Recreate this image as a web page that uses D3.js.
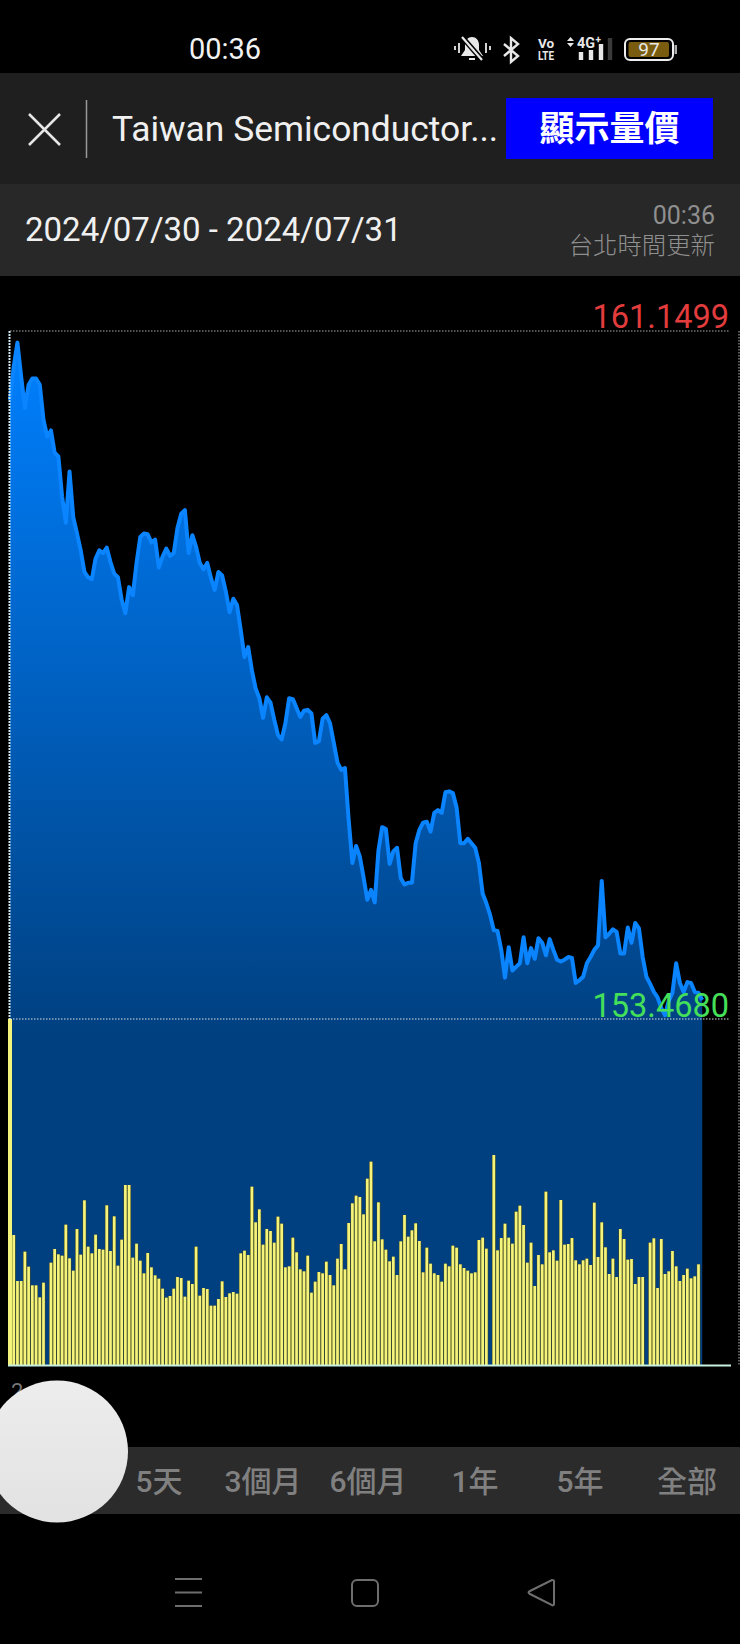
<!DOCTYPE html>
<html>
<head>
<meta charset="utf-8">
<style>
  html, body { margin: 0; padding: 0; background: #000; }
  svg { display: block; }
  text { font-family: Roboto, "Noto Sans CJK TC", sans-serif; }
</style>
<script src="https://cdn.jsdelivr.net/npm/d3@7/dist/d3.min.js"></script>
</head>
<body>
<svg id="screen" width="740" height="1644"></svg>
<script>
// chart values
var priceHigh = 161.1499;
var priceLow = 153.4680;

var prices = [
  160.38,160.75,161.02,160.64,160.29,160.55,160.62,160.62,160.55,160.16,
  159.97,160.04,159.79,159.75,159.30,159.01,159.58,159.07,158.89,158.70,
  158.46,158.40,158.38,158.61,158.70,158.67,158.73,158.57,158.44,158.40,
  158.15,158.00,158.29,158.20,158.56,158.85,158.89,158.88,158.79,158.82,
  158.51,158.63,158.72,158.64,158.67,158.95,159.11,159.15,158.67,158.87,
  158.74,158.56,158.49,158.56,158.39,158.26,158.46,158.42,158.24,158.01,
  158.16,158.09,157.81,157.51,157.62,157.36,157.16,157.05,156.83,157.06,
  157.00,156.81,156.64,156.59,156.77,157.05,157.04,156.94,156.84,156.91,
  156.92,156.88,156.55,156.57,156.82,156.86,156.77,156.55,156.33,156.25,
  156.27,155.69,155.21,155.40,155.28,155.05,154.80,154.91,154.77,155.35,
  155.61,155.59,155.20,155.34,155.38,155.04,154.97,154.99,154.99,155.43,
  155.58,155.66,155.67,155.56,155.77,155.80,155.77,156.00,156.01,155.99,
  155.83,155.43,155.43,155.48,155.43,155.38,155.21,154.87,154.76,154.63,
  154.46,154.45,154.24,153.93,154.27,154.01,154.05,154.09,154.38,154.09,
  154.26,154.14,154.37,154.32,154.18,154.36,154.24,154.13,154.11,154.13,
  154.16,154.15,153.87,153.90,153.94,154.09,154.16,154.24,154.29,155.01,
  154.38,154.42,154.47,154.44,154.20,154.20,154.49,154.32,154.54,154.48,
  154.16,153.94,153.86,153.77,153.71,153.59,153.51,153.67,153.76,154.09,
  153.87,153.77,153.88,153.87,153.77,153.76,153.68
];

// no volume axis in the picture, so these are relative heights
var volumes = [
  1038,390,252,252,340,295,239,239,203,247,
  0,307,348,332,328,421,320,283,408,331,494,
  355,335,391,348,346,479,342,446,298,376,
  540,540,322,364,313,275,336,293,269,259,
  229,202,207,229,264,261,205,253,243,355,
  208,231,228,178,178,198,251,204,215,219,214,
  335,343,330,535,428,467,361,408,402,367,
  445,424,293,296,382,338,287,281,328,217,
  250,279,275,310,270,239,319,363,287,426,
  485,508,504,452,559,610,371,488,377,346,
  311,325,270,371,450,385,404,425,372,278,
  352,304,275,270,250,304,296,358,352,302,
  291,283,275,278,375,382,349,0,
  630,344,381,424,382,364,460,478,420,307,
  367,237,330,302,520,338,344,313,495,361,
  363,381,314,302,314,319,300,487,324,428,
  353,273,319,264,408,378,316,318,243,264,
  264,0,367,380,231,378,273,281,342,296,
  252,270,289,260,266,302
];

var rangeTabs = ['5天', '3個月', '6個月', '1年', '5年', '全部'];
var rangeTabX = [159, 263, 368, 475, 580, 687];

var svg = d3.select('#screen');
var defs = svg.append('defs');

var chartLeft = 10, chartRight = 698.5, chartTop = 331, chartMid = 1019, chartBottom = 1365;

var x = d3.scaleLinear().domain([0, volumes.length - 1]).range([chartLeft, chartRight]);
var y = d3.scaleLinear().domain([priceLow, priceHigh]).range([chartMid, chartTop]);
var yVol = d3.scaleLinear().domain([0, d3.max(volumes)]).range([chartBottom, chartMid]);

// header bars
svg.append('rect').attr('y', 73).attr('width', 740).attr('height', 111).attr('fill', '#1f1f1f');
svg.append('rect').attr('y', 184).attr('width', 740).attr('height', 92).attr('fill', '#282828');

function label(str, px, py, size, color, anchor, weight) {
  return svg.append('text').attr('x', px).attr('y', py)
    .attr('font-size', size).attr('fill', color)
    .attr('text-anchor', anchor || 'start')
    .attr('font-weight', weight || 400)
    .text(str);
}

// status bar
label('00:36', 225, 59, 29, '#f2f2f2', 'middle', 400);
var icons = svg.append('g').attr('stroke', '#e8e8e8').attr('fill', 'none').attr('stroke-width', 2);
// muted bell
icons.append('path').attr('d', 'M461 56h22l-4-6v-5c0-5-3-8-7-8s-7 3-7 8v5zM469 58h6v2h-6z').attr('fill', '#e8e8e8').attr('stroke', 'none');
icons.append('path').attr('d', 'M463 38l20 23').attr('stroke', '#000').attr('stroke-width', 5);
icons.append('path').attr('d', 'M462 37l20 23').attr('stroke-width', 2.2);
icons.append('path').attr('d', 'M455 46v4M459 43v10M486 43v10M490 46v4').attr('stroke-width', 1.8);
// bluetooth
icons.append('path').attr('d', 'M504 56l14-12-7-6v24l7-6-14-12').attr('stroke-width', 2.4);
// volte
svg.append('text').attr('x', 546).attr('y', 48).attr('text-anchor', 'middle').attr('font-size', 13.5).attr('font-weight', 700).attr('fill', '#e8e8e8').text('Vo');
svg.append('text').attr('x', 546).attr('y', 60).attr('text-anchor', 'middle').attr('font-size', 13).attr('font-weight', 700).attr('fill', '#e8e8e8').attr('textLength', 16).attr('lengthAdjust', 'spacingAndGlyphs').text('LTE');
// 4G signal
icons.append('path').attr('d', 'M567 41l3.5-4 3.5 4zM567 43l3.5 4 3.5-4z').attr('fill', '#e8e8e8').attr('stroke', 'none');
svg.append('text').attr('x', 577).attr('y', 48).attr('font-size', 15).attr('font-weight', 700).attr('fill', '#e8e8e8').attr('textLength', 18).attr('lengthAdjust', 'spacingAndGlyphs').text('4G');
svg.append('text').attr('x', 595.5).attr('y', 42.5).attr('font-size', 10).attr('font-weight', 700).attr('fill', '#e8e8e8').text('+');
icons.append('path').attr('d', 'M581 52v8M591 50v10M601 44v16').attr('stroke-width', 4.4);
icons.append('path').attr('d', 'M610 38v22').attr('stroke-width', 4.4).attr('stroke', '#3a3a3a');
// battery
svg.append('rect').attr('x', 625).attr('y', 39).attr('width', 48).attr('height', 21).attr('rx', 5).attr('fill', '#000').attr('stroke', '#eee').attr('stroke-width', 2);
svg.append('rect').attr('x', 628.5).attr('y', 42).attr('width', 40.5).attr('height', 15).attr('rx', 2).attr('fill', '#7a5c10');
svg.append('rect').attr('x', 674.5).attr('y', 45).attr('width', 2.5).attr('height', 9).attr('fill', '#aaa');
label('97', 649, 56, 19, '#e8e8e8', 'middle');

// nav bar
svg.append('path').attr('d', 'M29 114L60 145M60 114L29 145').attr('stroke', '#e6e6e6').attr('stroke-width', 2.5);
svg.append('line').attr('x1', 86.5).attr('x2', 86.5).attr('y1', 100).attr('y2', 158).attr('stroke', '#999').attr('stroke-width', 1.5);
label('Taiwan Semiconductor...', 112, 141, 35.4, '#f0f0f0');
svg.append('rect').attr('x', 506).attr('y', 98).attr('width', 207).attr('height', 61).attr('fill', '#0000ff');
label('顯示量價', 609.5, 141, 35, '#ffffff', 'middle', 700);

// date bar
label('2024/07/30 - 2024/07/31', 25, 241, 33, '#f0f0f0');
label('00:36', 715, 224, 25, '#8f8f8f', 'end');
label('台北時間更新', 715, 254, 24.4, '#8f8f8f', 'end', 300);

// price area
var grad = defs.append('linearGradient').attr('id', 'priceFill').attr('x1', 0).attr('x2', 0).attr('y1', 0).attr('y2', 1)
  .attr('gradientUnits', 'objectBoundingBox');
grad.append('stop').attr('offset', '0%').attr('stop-color', '#0080ff');
grad.append('stop').attr('offset', '68%').attr('stop-color', '#004080');
grad.append('stop').attr('offset', '100%').attr('stop-color', '#004080');

var area = d3.area().x(function(d, i) { return x(i); }).y0(chartBottom).y1(function(d) { return y(d); });
var line = d3.line().x(function(d, i) { return x(i); }).y(function(d) { return y(d); });

svg.append('path').datum(prices).attr('d', area).attr('fill', 'url(#priceFill)');
svg.append('path').datum(prices).attr('d', line).attr('fill', 'none')
  .attr('stroke', '#0a84ff').attr('stroke-width', 4).attr('stroke-linejoin', 'round');

// volume bars
svg.selectAll('.vol-shadow')
  .data(volumes)
  .join('rect')
  .classed('vol-shadow', true)
  .attr('x', function(d, i) { return x(i) - 1.85; })
  .attr('width', 3.72)
  .attr('y', function(d) { return yVol(d); })
  .attr('height', function(d) { return chartBottom - yVol(d); })
  .attr('fill', function(d) { return d > 0 ? '#4a4a18' : 'none'; });

svg.selectAll('.vol')
  .data(volumes)
  .join('rect')
  .classed('vol', true)
  .attr('x', function(d, i) { return x(i) - (i === 0 ? 2 : 1.35); })
  .attr('width', function(d, i) { return i === 0 ? 4 : 2.7; })
  .attr('y', function(d) { return yVol(d); })
  .attr('height', function(d) { return chartBottom - yVol(d); })
  .attr('fill', '#f4f47c');

// frame lines
svg.append('line').attr('x1', 10).attr('x2', 730).attr('y1', chartTop).attr('y2', chartTop)
  .attr('stroke', '#aaaaaa').attr('stroke-width', 1.2).attr('stroke-dasharray', '1.5 1.5');
svg.append('line').attr('x1', 10).attr('x2', 730).attr('y1', chartMid).attr('y2', chartMid)
  .attr('stroke', '#dddddd').attr('stroke-width', 1.2).attr('stroke-dasharray', '1.5 1.5');
svg.append('line').attr('x1', 9.5).attr('x2', 9.5).attr('y1', chartTop).attr('y2', chartMid)
  .attr('stroke', '#cfe8ef').attr('stroke-width', 2).attr('stroke-dasharray', '2 1');
svg.append('line').attr('x1', 739).attr('x2', 739).attr('y1', chartTop).attr('y2', chartBottom)
  .attr('stroke', '#999').attr('stroke-width', 1.2).attr('stroke-dasharray', '1.5 1.5');
svg.append('line').attr('x1', 8).attr('x2', 731).attr('y1', chartBottom + 0.5).attr('y2', chartBottom + 0.5)
  .attr('stroke', '#c8f0e0').attr('stroke-width', 2);

label('161.1499', 729, 328, 32.5, '#e23c3c', 'end');
label('153.4680', 729, 1017, 32.5, '#45e05a', 'end');

// range tabs
svg.append('rect').attr('y', 1447).attr('width', 740).attr('height', 67).attr('fill', '#2b2b2b');
svg.selectAll('.tab')
  .data(rangeTabs)
  .join('text')
  .classed('tab', true)
  .attr('x', function(d, i) { return rangeTabX[i]; })
  .attr('y', 1492)
  .attr('text-anchor', 'middle')
  .attr('font-size', 30)
  .attr('font-weight', 500)
  .attr('fill', '#808080')
  .text(function(d) { return d; });

label('2', 11, 1399, 22, '#777');

// floating button over the first tab
var knob = defs.append('linearGradient').attr('id', 'knob').attr('x1', 0).attr('x2', 0).attr('y1', 0).attr('y2', 1);
knob.append('stop').attr('offset', '0%').attr('stop-color', '#ededed');
knob.append('stop').attr('offset', '100%').attr('stop-color', '#e2e2e2');
svg.append('circle').attr('cx', 57).attr('cy', 1451.5).attr('r', 71).attr('fill', 'url(#knob)');

// android nav buttons
var nav = svg.append('g').attr('stroke', '#6e6e6e').attr('fill', 'none').attr('stroke-width', 2);
nav.append('path').attr('d', 'M175 1579h27M175 1592.5h27M175 1606h27');
nav.append('rect').attr('x', 352).attr('y', 1580).attr('width', 26).attr('height', 26).attr('rx', 5);
nav.append('path').attr('d', 'M554 1581c0-1-1-1-2-1l-22 11c-2 1-2 2 0 3l22 11c1 1 2 0 2-1z');
</script>
</body>
</html>
